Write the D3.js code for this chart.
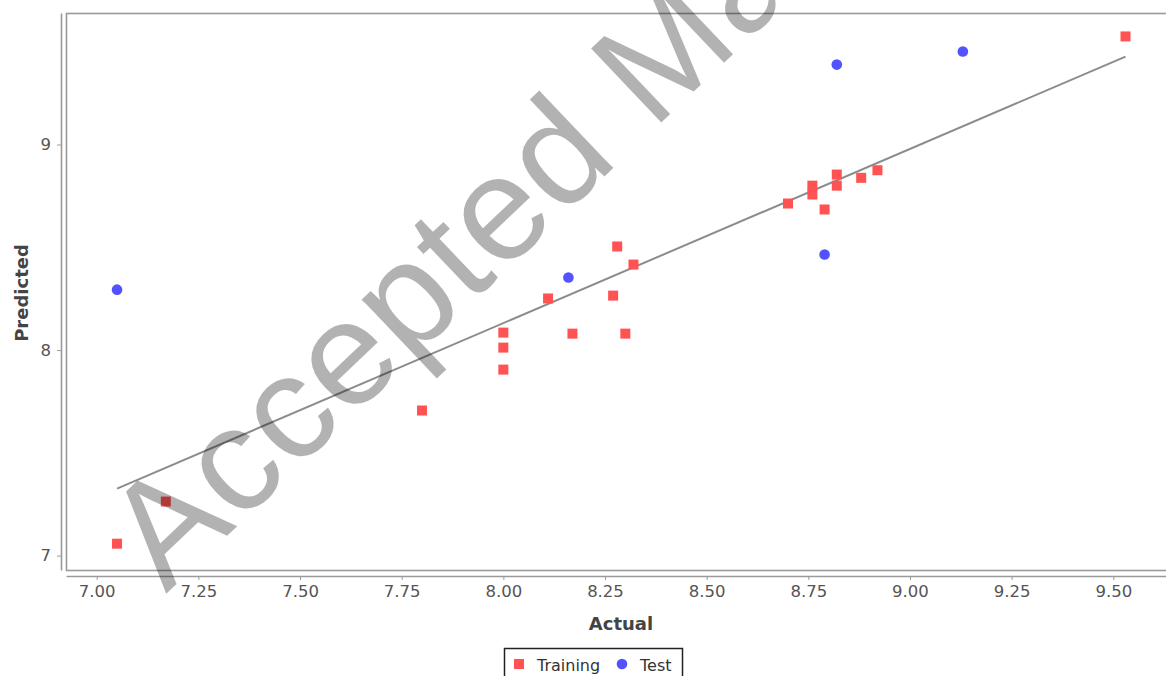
<!DOCTYPE html>
<html>
<head>
<meta charset="utf-8">
<script src="https://cdn.jsdelivr.net/npm/d3@7"></script>
<style>
  html, body { margin: 0; padding: 0; background: #fff; }
  svg { display: block; }
</style>
</head>
<body>
<svg id="chart" width="1166" height="676"></svg>
<script>
// ---- data ----
const trainingActual    = [7.05, 7.17, 7.80, 8.00, 8.00, 8.00, 8.11, 8.17, 8.27, 8.28, 8.30, 8.32, 8.70, 8.76, 8.76, 8.79, 8.82, 8.82, 8.88, 8.92, 9.53];
const trainingPredicted = [7.058, 7.263, 7.706, 8.085, 8.012, 7.905, 8.251, 8.080, 8.265, 8.504, 8.080, 8.416, 8.713, 8.800, 8.757, 8.684, 8.854, 8.800, 8.838, 8.875, 9.526];
const testActual    = [7.05, 8.16, 8.79, 8.82, 9.13];
const testPredicted = [8.294, 8.353, 8.465, 9.389, 9.453];
const fitLineX = [7.05, 9.53];
const fitLineY = [7.326, 9.428];
const xTicks = [7.00, 7.25, 7.50, 7.75, 8.00, 8.25, 8.50, 8.75, 9.00, 9.25, 9.50];
const yTicks = [7, 8, 9];
const xDomain = [6.9245, 9.6296];
const yDomain = [6.93, 9.64];
const seriesNames = ["Training", "Test"];
const watermarkText = "Accepted Manuscript";

// ---- layout ----
const svg = d3.select("#chart");
const plot = { left: 66, right: 1166, top: 13, bottom: 570 };
const x = d3.scaleLinear().domain(xDomain).range([plot.left, plot.right]);
const y = d3.scaleLinear().domain(yDomain).range([plot.bottom, plot.top]);
const font = "'DejaVu Sans', Verdana, sans-serif";
const frameColor = "#9a9a9a";
const red = "#ff5252";
const blue = "#5252ff";

// plot frame
svg.append("rect")
  .attr("x", plot.left + 0.5).attr("y", plot.top + 0.5)
  .attr("width", plot.right - plot.left + 10).attr("height", plot.bottom - plot.top)
  .attr("fill", "#fff").attr("stroke", frameColor).attr("stroke-width", 1.6);

// x axis
const xAxis = d3.axisBottom(x).tickValues(xTicks).tickFormat(d3.format(".2f"))
  .tickSizeInner(4).tickSizeOuter(0).tickPadding(5);
const gx = svg.append("g").attr("transform", `translate(0,${plot.bottom + 6})`).call(xAxis);
gx.select(".domain").attr("stroke", frameColor).attr("stroke-width", 1.6);
gx.selectAll(".tick line").attr("stroke", frameColor);
gx.selectAll(".tick text").attr("fill", "#555").style("font-family", font).style("font-size", "16.5px");

// y axis
const yAxis = d3.axisLeft(y).tickValues(yTicks).tickFormat(d3.format("d"))
  .tickSizeInner(4).tickSizeOuter(0).tickPadding(6);
const gy = svg.append("g").attr("transform", `translate(${plot.left - 5},0)`).call(yAxis);
gy.select(".domain").attr("stroke", frameColor).attr("stroke-width", 1.6);
gy.selectAll(".tick line").attr("stroke", frameColor);
gy.selectAll(".tick text").attr("fill", "#555").style("font-family", font).style("font-size", "16.5px");

// axis titles
svg.append("text").attr("x", 621).attr("y", 630)
  .attr("text-anchor", "middle").attr("fill", "#444")
  .style("font-family", font).style("font-size", "18px").style("font-weight", "bold")
  .text("Actual");
svg.append("text").attr("transform", "translate(28,293) rotate(-90)")
  .attr("text-anchor", "middle").attr("fill", "#444")
  .style("font-family", font).style("font-size", "18px").style("font-weight", "bold")
  .text("Predicted");

// regression line
svg.append("line")
  .attr("x1", x(fitLineX[0])).attr("y1", y(fitLineY[0]))
  .attr("x2", x(fitLineX[1])).attr("y2", y(fitLineY[1]))
  .attr("stroke", "#8c8c8c").attr("stroke-width", 2);

// training squares
const sq = 10;
svg.append("g").selectAll("rect")
  .data(trainingActual.map((a, i) => [a, trainingPredicted[i]]))
  .join("rect")
  .attr("x", d => x(d[0]) - sq / 2).attr("y", d => y(d[1]) - sq / 2)
  .attr("width", sq).attr("height", sq).attr("fill", red);

// test circles
svg.append("g").selectAll("circle")
  .data(testActual.map((a, i) => [a, testPredicted[i]]))
  .join("circle")
  .attr("cx", d => x(d[0])).attr("cy", d => y(d[1])).attr("r", 5.3).attr("fill", blue);

// legend
const lg = svg.append("g");
lg.append("rect").attr("x", 504.5).attr("y", 648.5).attr("width", 178).attr("height", 40)
  .attr("fill", "#fff").attr("stroke", "#222").attr("stroke-width", 1.5);
lg.append("rect").attr("x", 514).attr("y", 659).attr("width", sq).attr("height", sq).attr("fill", red);
lg.append("text").attr("x", 537).attr("y", 671).attr("fill", "#333")
  .style("font-family", font).style("font-size", "16px").text(seriesNames[0]);
lg.append("circle").attr("cx", 622).attr("cy", 664).attr("r", 5.3).attr("fill", blue);
lg.append("text").attr("x", 640).attr("y", 671).attr("fill", "#333")
  .style("font-family", font).style("font-size", "16px").text(seriesNames[1]);

// watermark
svg.append("text")
  .attr("transform", "translate(166,594) rotate(-43.6)")
  .attr("fill", "#000").attr("fill-opacity", 0.3)
  .style("font-family", "'Liberation Sans', Arial, sans-serif").style("font-size", "148px")
  .style("letter-spacing", "1.5px")
  .text(watermarkText);
</script>
</body>
</html>
